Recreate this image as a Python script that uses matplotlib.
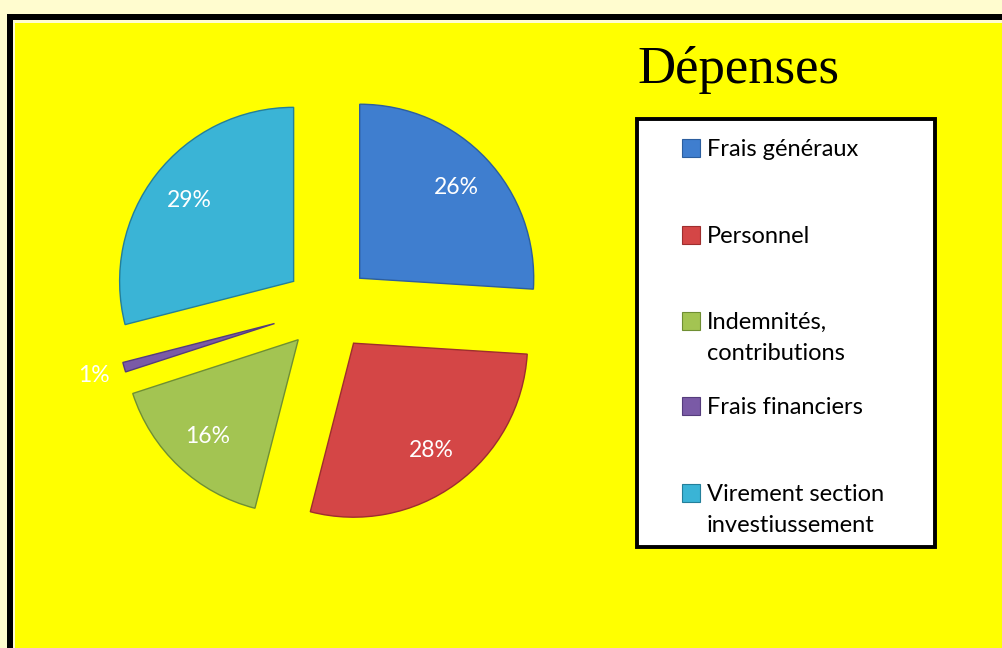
import numpy as np
import matplotlib
matplotlib.use("Agg")
import matplotlib.pyplot as plt
from matplotlib.patches import Rectangle

# ---- data ----
categories = ["Frais généraux", "Personnel", "Indemnités,\ncontributions",
              "Frais financiers", "Virement section\ninvestiussement"]
values = [26, 28, 16, 1, 29]
colors = ["#3F7ECF", "#D44646", "#A3C452", "#7A5AA6", "#3AB4D6"]
edges = ["#2C5E9E", "#9E2E2E", "#6F8F33", "#553C7C", "#237F9A"]
explode = [0.25, 0.25, 0.25, 0.32, 0.25]
title = "Dépenses"

W, H = 1003, 648
fig = plt.figure(figsize=(W / 100, H / 100), dpi=100)
fig.patch.set_facecolor("#FFFCCF")

def fx(px):
    return px / W

def fy(py):  # py measured from top
    return 1 - py / H

# frame (behind everything)
fig.add_artist(Rectangle((fx(7), fy(700)), fx(1100), fy(14) - fy(700),
                         transform=fig.transFigure, facecolor="black",
                         edgecolor="none", zorder=-30))
fig.add_artist(Rectangle((fx(13), fy(700)), fx(1100), fy(20) - fy(700),
                         transform=fig.transFigure, facecolor="#FFFCCF",
                         edgecolor="none", zorder=-20))
fig.add_artist(Rectangle((fx(15), fy(700)), fx(1100), fy(23) - fy(700),
                         transform=fig.transFigure, facecolor="#FFFF00",
                         edgecolor="none", zorder=-10))

# pie axes: centre at (328, 307) px, radius 174 px
cx, cy, r = 328, 308, 174
ax = fig.add_axes([fx(cx - 1.5 * r), fy(cy + 1.5 * r), 3 * r / W, 3 * r / H])
ax.set_zorder(5)
ax.set_facecolor("none")
wedges, texts, autotexts = ax.pie(
    values, explode=explode, colors=colors, startangle=90, counterclock=False,
    autopct="%1.0f%%", pctdistance=0.76, radius=1.0,
    wedgeprops=dict(linewidth=1.0),
    textprops=dict(color="white", fontsize=16.5, family="Lato"))
for w, ec in zip(wedges, edges):
    w.set_edgecolor(ec)
# thin slice appears shorter (perspective); its label sits just outside
w = wedges[3]
w.set_radius(0.9)
ang = np.deg2rad((w.theta1 + w.theta2) / 2)
c = w.center
autotexts[3].set_position((c[0] + 1.08 * np.cos(ang), c[1] + 1.08 * np.sin(ang)))
ax.set_xlim(-1.5, 1.5)
ax.set_ylim(-1.5, 1.5)
ax.axis("off")

# title
fig.text(fx(637), fy(83), title, family="Liberation Serif", fontsize=38,
         va="baseline", ha="left", color="black")

# legend box
fig.add_artist(Rectangle((fx(637), fy(547)), fx(935) - fx(637), fy(119) - fy(547),
                         transform=fig.transFigure, facecolor="white",
                         edgecolor="black", linewidth=2.8))
baselines = [156, 243, 329, 414, 501]
for lab, col, ec, b in zip(categories, colors, edges, baselines):
    fig.add_artist(Rectangle((fx(682), fy(b + 1)), fx(18), fy(b - 17) - fy(b + 1),
                             transform=fig.transFigure, facecolor=col,
                             edgecolor=ec, linewidth=0.8))
    for k, line in enumerate(lab.split("\n")):
        fig.text(fx(707), fy(b + 31 * k), line, family="Lato", fontsize=17,
                 va="baseline", ha="left", color="black")

fig.savefig("out.png", dpi=100, facecolor=fig.get_facecolor())
